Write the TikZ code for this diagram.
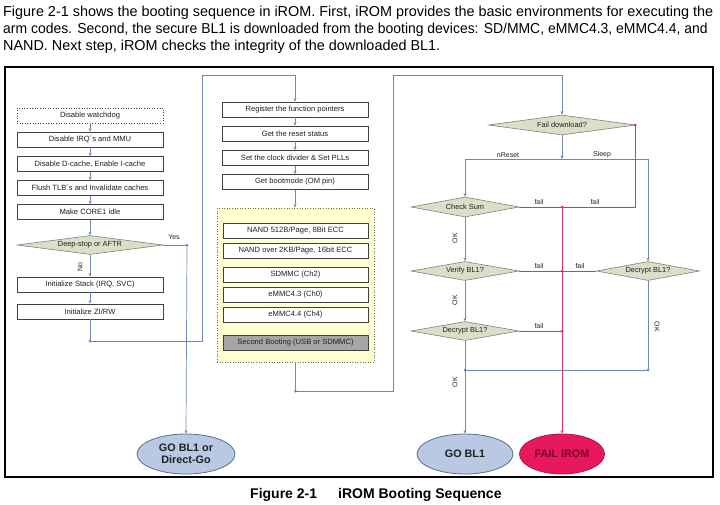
\documentclass[tikz,border=0pt]{standalone}
\usepackage{fontspec}
\setmainfont{Liberation Sans}
\usetikzlibrary{shapes.geometric,arrows.meta}
\definecolor{ln}{HTML}{6A88BC}
\definecolor{rd}{HTML}{E3306B}
\definecolor{bxd}{HTML}{404040}
\definecolor{txt}{HTML}{202020}
\definecolor{dfill}{HTML}{DCDFC8}
\definecolor{dgr}{HTML}{808080}
\definecolor{yfill}{HTML}{FFFFD2}
\definecolor{yd}{HTML}{6B6B3A}
\definecolor{gfill}{HTML}{A6A6A6}
\definecolor{efill}{HTML}{B9C9E3}
\definecolor{ed}{HTML}{5A6E8F}
\definecolor{ffill}{HTML}{E8185F}
\definecolor{fd}{HTML}{B01048}
\definecolor{ftxt}{HTML}{7A0020}
\begin{document}
\begin{tikzpicture}[x=1pt,y=-1pt,
  box/.style={draw=bxd, fill=white, line width=0.6pt, minimum width=146pt, minimum height=15pt, inner sep=0pt, font=\fontsize{7.6}{9}\selectfont, text=txt},
  ibox/.style={box, minimum width=145pt},
  dia/.style={diamond, draw=dgr, fill=dfill, line width=0.6pt, inner sep=0pt, aspect=6, minimum height=19pt, font=\fontsize{7.4}{9}\selectfont, text=txt},
  ell/.style={ellipse, draw=ed, fill=efill, line width=0.8pt, minimum height=40pt, inner sep=0pt, align=center, font=\bfseries\fontsize{10.8}{12.5}\selectfont, text=txt},
  conn/.style={draw=ln, line width=0.7pt},
  arr/.style={conn, -{Stealth[length=3.5pt,width=3pt]}},
  failline/.style={draw=rd, line width=0.8pt},
  failarr/.style={failline, -{Stealth[length=3.5pt,width=3pt]}},
  jdot/.style={circle, fill=ln, inner sep=0pt, minimum size=3pt},
  rdot/.style={circle, fill=rd, inner sep=0pt, minimum size=3pt},
  lbl/.style={font=\fontsize{7}{8}\selectfont, text=txt, inner sep=0pt},
  para/.style={anchor=base west, inner sep=0pt, font=\fontsize{14.4}{16}\selectfont, text=black}
]
\useasboundingbox (0,0) rectangle (720,504);

% intro text
\node[para] (t1) at (3,16.5) {Figure 2-1 shows the booting sequence in iROM. First, iROM provides the basic environments for executing the};
\node[para, xscale=0.968] (t2) at (3,33.5) {arm codes. Second, the secure BL1 is downloaded from the booting devices: SD/MMC, eMMC4.3, eMMC4.4, and};
\node[para] (t3) at (3,50.5) {NAND. Next step, iROM checks the integrity of the downloaded BL1.};

% frame
\draw[line width=1.5pt, black] (5,67) rectangle (713,477);

% left column
\node[box, dotted] (wd) at (90,115.5) {Disable watchdog};
\node[box] (irq) at (90,139.5) {Disable IRQ´s and MMU};
\node[box] (dc) at (90,164) {Disable D-cache, Enable I-cache};
\node[box] (fl) at (90,188) {Flush TLB´s and Invalidate caches};
\node[box] (c1) at (90,212) {Make CORE1 idle};
\node[dia, minimum width=146pt] (ds) at (90,245) {Deep-stop or AFTR};
\node[box] (st) at (90,284.5) {Initialize Stack (IRQ, SVC)};
\node[box] (zi) at (90,311.5) {Initialize ZI/RW};
\node[ell, minimum width=98pt] (gl) at (186,454) {GO BL1 or\\Direct-Go};

\draw[arr] (wd) -- (irq);
\draw[arr] (irq) -- (dc);
\draw[arr] (dc) -- (fl);
\draw[arr] (fl) -- (c1);
\draw[arr] (c1) -- (ds);
\draw[arr] (ds) -- (st);
\draw[arr] (st) -- (zi);
\node[lbl, rotate=90] (no) at (80,267) {No};
\node[jdot] (dy) at (187,245) {};
\draw[conn] (ds.east) -- (dy.center);
\draw[arr] (dy.center) -- (gl.north);
\node[lbl] (yes) at (174,237) {Yes};

% middle column
\node[box] (rg) at (295,109.5) {Register the function pointers};
\node[box] (rs) at (295,133.5) {Get the reset status};
\node[box] (ck) at (295,158) {Set the clock divider \& Set PLLs};
\node[box] (bm) at (295,182) {Get bootmode (OM pin)};
\node[draw=yd, dotted, fill=yfill, line width=0.6pt, minimum width=157pt, minimum height=154pt, inner sep=0pt] (yb) at (295.5,285) {};
\node[ibox] (n1) at (295.5,230.5) {NAND 512B/Page, 8Bit ECC};
\node[ibox] (n2) at (295.5,250.5) {NAND over 2KB/Page, 16bit ECC};
\node[ibox] (sd) at (295.5,275) {SDMMC (Ch2)};
\node[ibox] (e3) at (295.5,294.5) {eMMC4.3 (Ch0)};
\node[ibox] (e4) at (295.5,314.5) {eMMC4.4 (Ch4)};
\node[ibox, fill=gfill] (sb) at (295.5,343) {Second Booting (USB or SDMMC)};

\node[jdot] (dz) at (90,341) {};
\coordinate (z1) at (202,341);
\coordinate (z2) at (202,75);
\coordinate (z3) at (295,75);
\draw[conn] (zi.south) -- (dz.center);
\draw[arr] (dz.center) -- (z1) -- (z2) -- (z3) -- (rg.north);
\draw[arr] (rg) -- (rs);
\draw[arr] (rs) -- (ck);
\draw[arr] (ck) -- (bm);
\draw[arr] (bm.south) -- (yb.north -| bm.south);

\node[jdot] (dyb) at (295.5,391) {};
\coordinate (y1) at (393,391);
\coordinate (y2) at (393,75);
\coordinate (y3) at (562,75);
\draw[conn] (yb.south) -- (dyb.center);

% right part
\node[dia, minimum width=147pt, minimum height=20pt] (fd) at (562,125) {Fail download?};
\node[dia, minimum width=108pt, minimum height=20pt] (cs) at (465,207) {Check Sum};
\node[dia, minimum width=108pt] (vb) at (465,271) {Verify BL1?};
\node[dia, minimum width=108pt] (dl) at (465,331) {Decrypt BL1?};
\node[dia, minimum width=103pt] (dr) at (648,271) {Decrypt BL1?};
\node[ell, minimum width=96pt] (gb) at (465,454) {GO BL1};
\node[ell, minimum width=85pt, fill=ffill, draw=fd, text=ftxt] (fi) at (562,454) {FAIL IROM};

\draw[arr] (dyb.center) -- (y1) -- (y2) -- (y3) -- (fd.north);

\coordinate (fj) at (562,159);
\coordinate (fjl) at (465,159);
\coordinate (fjr) at (648,159);
\draw[arr] (fd.south) -- (fj);
\draw[conn] (fjl) -- (fjr);
\draw[arr] (fjl) -- (cs.north);
\draw[arr] (fjr) -- (dr.north);
\node[lbl] (nr) at (508,155) {nReset};
\node[lbl] (sl) at (602,155) {Sleep};

\draw[arr] (cs) -- (vb);
\draw[arr] (vb) -- (dl);
\draw[arr] (dl) -- (gb);
\node[lbl, rotate=90] (ok1) at (455,238) {OK};
\node[lbl, rotate=90] (ok2) at (455,300) {OK};
\node[lbl, rotate=90] (ok3) at (455,382) {OK};

\node[jdot] (dr1) at (648,370) {};
\node[jdot] (dl1) at (465,370) {};
\draw[conn] (dr.south) -- (dr1.center) -- (dl1.center);
\node[lbl, rotate=-90] (ok4) at (657,327) {OK};

% fail lines
\node[rdot] (fe) at (635,125) {};
\node[rdot] (r1) at (562,207) {};
\node[rdot] (r2) at (562,271) {};
\node[rdot] (r3) at (562,331) {};
\draw[failline] (fd.east) -- (fe.center) -- (fe.center |- cs.east) -- (cs.east);
\draw[failline] (vb.east) -- (dr.west);
\draw[failline] (dl.east) -- (r3.center);
\draw[failarr] (r1.center) -- (fi.north);
\node[lbl] (f1) at (539,202) {fail};
\node[lbl] (f2) at (595,202) {fail};
\node[lbl] (f3) at (539,266) {fail};
\node[lbl] (f4) at (580,266) {fail};
\node[lbl] (f5) at (539,326) {fail};

% caption
\node[anchor=base west, inner sep=0pt, font=\bfseries\fontsize{14}{16}\selectfont] (cap1) at (250,498) {Figure 2-1};
\node[anchor=base west, inner sep=0pt, font=\bfseries\fontsize{14}{16}\selectfont] (cap2) at (338,498) {iROM Booting Sequence};
\end{tikzpicture}
\end{document}
